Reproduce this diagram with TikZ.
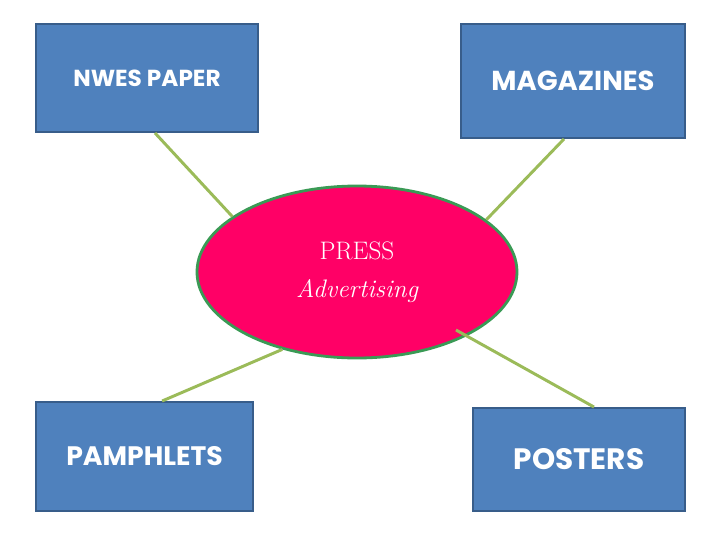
\documentclass[tikz,border=0pt]{standalone}
\usepackage{fontspec}
\usetikzlibrary{shapes.geometric}
\newfontfamily\boxfont{Poppins}

\begin{document}
\begin{tikzpicture}[
  box/.style={draw=boxEdge, fill=boxBlue, line width=1.4pt, text=white,
    font=\boxfont\bfseries, inner sep=0pt},
  link/.style={draw=linkGreen, line width=2.1pt}
]

% Colori
\definecolor{boxBlue}{HTML}{4F81BD}
\definecolor{boxEdge}{HTML}{385D8A}
\definecolor{pressPink}{HTML}{FF0066}
\definecolor{pressEdge}{HTML}{3A9A55}
\definecolor{linkGreen}{HTML}{9BBB59}

\useasboundingbox (0,0) rectangle (18,-13.5);

% Riquadri
\node[box, minimum width=5.55cm, minimum height=2.7cm, font=\boxfont\bfseries\fontsize{16.5}{18}\selectfont]
  (news) at (3.675,-1.95) {NWES PAPER};
\node[box, minimum width=5.6cm, minimum height=2.85cm, font=\boxfont\bfseries\fontsize{19.5}{21}\selectfont]
  (mag) at (14.325,-2.025) {MAGAZINES};
\node[box, minimum width=5.425cm, minimum height=2.725cm, font=\boxfont\bfseries\fontsize{19}{21}\selectfont]
  (pamph) at (3.6125,-11.4125) {PAMPHLETS};
\node[box, minimum width=5.3cm, minimum height=2.575cm, font=\boxfont\bfseries\fontsize{21}{23}\selectfont]
  (post) at (14.475,-11.4875) {POSTERS};

% Ellisse centrale
\node[ellipse, draw=pressEdge, fill=pressPink, line width=2pt,
  minimum width=8cm, minimum height=4.3cm, inner sep=0pt,
  text=white, align=center, font=\fontsize{18}{27}\selectfont]
  (press) at (8.925,-6.8) {PRESS\\\itshape Advertising};

\coordinate (postend) at (11.4,-8.25);

% Collegamenti
\draw[link] ([xshift=0.2cm]news.south) -- (press.156);
\draw[link] ([xshift=-0.225cm]mag.south) -- (press.22);
\draw[link] ([xshift=0.44cm]pamph.north) -- (press.226);
\draw[link] ([xshift=0.375cm]post.north) -- (postend);

\end{tikzpicture}
\end{document}
